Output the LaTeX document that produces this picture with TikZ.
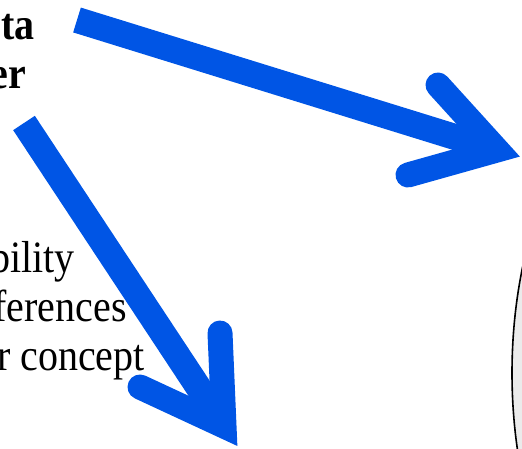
\documentclass[tikz,border=0pt]{standalone}
\usepackage{fontspec}
\setmainfont{Liberation Serif}
\definecolor{arrowblue}{HTML}{0055E5}
\newcommand{\talltext}[1]{\scalebox{1}[1.12]{#1}}

\begin{document}
\begin{tikzpicture}[x=1pt,y=-1pt,
  shaft/.style={draw=arrowblue,line width=26pt},
  barbs/.style={draw=arrowblue,line width=25pt,line cap=round,line join=miter},
  lbl/.style={inner sep=0pt,anchor=base east,font=\fontsize{40}{48}\selectfont}]
\useasboundingbox (0,0) rectangle (522,449);
% part of the big grey ellipse on the right
\draw[fill=black!8,line width=1.6pt] (712,373) ellipse [x radius=200pt, y radius=329pt];
% arrow ends
\coordinate (top start) at (77,20);
\coordinate (top tip) at (497,150);
\coordinate (top barb a) at (438,85);
\coordinate (top barb b) at (408,175);
\coordinate (low start) at (24,123);
\coordinate (low tip) at (224,426);
\coordinate (low barb a) at (220,333);
\coordinate (low barb b) at (140,387);
% the two blue arrows
\draw[shaft] (top start) -- (top tip);
\draw[barbs] (top barb a) -- (top tip) -- (top barb b);
\draw[shaft] (low start) -- (low tip);
\draw[barbs] (low barb a) -- (low tip) -- (low barb b);
% texts cut at the left edge
\node[lbl,font=\fontsize{40}{48}\selectfont\bfseries] (ta) at (35,40) {\talltext{ta}};
\node[lbl,font=\fontsize{40}{48}\selectfont\bfseries] (er) at (26,89) {\talltext{er}};
\node[lbl] (bility) at (75,272) {\talltext{bility}};
\node[lbl] (ferences) at (127,321) {\talltext{ferences}};
\node[lbl] (concept) at (145,370) {\talltext{r concept}};
\end{tikzpicture}
\end{document}
